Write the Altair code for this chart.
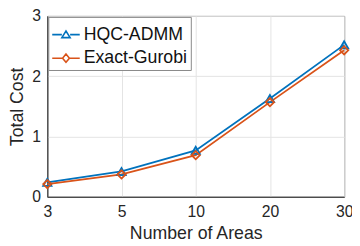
import altair as alt
import pandas as pd

areas = ["3", "5", "10", "20", "30"]
series_names = ["HQC-ADMM", "Exact-Gurobi"]
hqc_admm = [0.24, 0.42, 0.77, 1.63, 2.52]
exact_gurobi = [0.21, 0.37, 0.69, 1.57, 2.43]
colors = ["#0072BD", "#D95319"]
marker_shapes = ["triangle-up", "diamond"]
legend_paths = [
    "M-1,0L-0.3,0M0.3,0L1,0M-0.3,0.22L0,-0.26L0.3,0.22Z",
    "M-1,0L-0.25,0M0.25,0L1,0M0,-0.3L0.25,0L0,0.3L-0.25,0Z",
]

rows = []
for name, vals, col, shp in zip(series_names, [hqc_admm, exact_gurobi], colors, marker_shapes):
    for a, v in zip(areas, vals):
        rows.append({"areas": a, "cost": v, "series": name, "col": col, "shp": shp})
df = pd.DataFrame(rows)

font = "Liberation Sans"

x = alt.X("areas:O", sort=areas, scale=alt.Scale(type="point", padding=0),
          axis=alt.Axis(title="Number of Areas", labelAngle=0, grid=True))
y = alt.Y("cost:Q", scale=alt.Scale(domain=[0, 3], nice=False),
          axis=alt.Axis(title="Total Cost", values=[0, 1, 2, 3], grid=True))

base = alt.Chart(df)

lines = base.mark_line(strokeWidth=1.8).encode(
    x=x, y=y, detail="series:N",
    color=alt.Color("col:N", scale=None),
)
points = base.mark_point(filled=False, strokeWidth=1.8, size=70, opacity=1).encode(
    x=x, y=y,
    color=alt.Color("col:N", scale=None),
    shape=alt.Shape("shp:N", scale=None),
)
legend_layer = base.transform_filter("false").mark_point(filled=False, strokeWidth=1.8, opacity=1).encode(
    x=x, y=y,
    color=alt.Color("series:N", scale=alt.Scale(domain=series_names, range=colors),
                    legend=alt.Legend(title=None)),
    shape=alt.Shape("series:N", scale=alt.Scale(domain=series_names, range=legend_paths),
                    legend=alt.Legend(title=None)),
)

chart = alt.layer(lines, points, legend_layer).properties(
    width=302, height=184,
    autosize=alt.AutoSizeParams(type="none"),
    padding={"left": 40, "top": 6, "right": 8, "bottom": 48},
).configure_view(
    stroke="#262626", strokeWidth=1,
).configure_axis(
    labelFont=font, titleFont=font, labelFontSize=16, titleFontSize=18,
    labelColor="#262626", titleColor="#262626", titleFontWeight="normal",
    domainColor="#262626", tickColor="#262626", ticks=False,
    gridColor="#e3e3e3", labelPadding=7,
).configure_axisX(
    titlePadding=5,
).configure_axisY(
    titlePadding=5,
).configure_legend(
    orient="top-left", offset=1, labelFont=font, labelFontSize=18, labelColor="#111111",
    symbolSize=784, symbolStrokeWidth=1.6, rowPadding=-11, padding=3,
    strokeColor="#888888", fillColor="white", labelOffset=3,
)

chart.save("out.html", embed_options={"renderer": "svg", "actions": False})
